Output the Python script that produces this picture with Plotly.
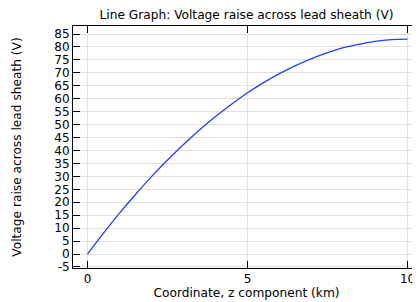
import plotly.graph_objects as go

z_km = [0, 0.5, 1, 1.5, 2, 2.5, 3, 3.5, 4, 4.5, 5, 5.5, 6, 6.5, 7, 7.5, 8, 8.5, 9, 9.5, 10]
voltage = [0, 8.1, 15.8, 23.0, 29.9, 36.3, 42.3, 47.9, 53.1, 57.9, 62.3,
           66.2, 69.7, 72.8, 75.5, 77.8, 79.7, 81.1, 82.2, 82.8, 83.0]
x_ticks = [0, 5, 10]
y_ticks = list(range(-5, 90, 5))

# page body has an 8px margin; figure is sized to fill the remaining window
OFF = 8
W, H = 420 - OFF, 302 - OFF

fig = go.Figure()
fig.add_trace(go.Scatter(x=z_km, y=voltage, mode="lines",
                         line=dict(color="#2040ff", width=1.3, shape="spline"),
                         showlegend=False))

font = dict(family="DejaVu Sans", size=12, color="black")
title_font = dict(family="DejaVu Sans", size=12.2, color="black")
fig.update_layout(
    width=W, height=H,
    margin=dict(l=73 - OFF, r=0, t=26 - OFF, b=34, pad=0),
    paper_bgcolor="white", plot_bgcolor="white",
    font=font,
    title=dict(text="Line Graph: Voltage raise across lead sheath (V)",
               x=(73 + 420 - 2 * OFF) / 2 / W, xanchor="center",
               y=1 - (14.5 - OFF) / H, yanchor="middle",
               font=dict(family="DejaVu Sans", size=12.2, color="black")),
)
fig.update_xaxes(range=[-0.453, 10.39], tickvals=x_ticks, ticktext=[str(v) for v in x_ticks],
                 showline=True, linecolor="black", linewidth=1, mirror="allticks",
                 ticks="inside", ticklen=7, tickcolor="black",
                 showgrid=True, gridcolor="#e0e0e0", gridwidth=1, zeroline=False,
                 title=dict(text="Coordinate, z component (km)", standoff=0, font=title_font),
                 tickfont=font)
fig.update_yaxes(range=[-5.4, 88.1], tickvals=y_ticks, ticktext=[str(v) for v in y_ticks],
                 showline=True, linecolor="black", linewidth=1, mirror="allticks",
                 ticks="inside", ticklen=7, tickcolor="black",
                 showgrid=True, gridcolor="#e0e0e0", gridwidth=1, zeroline=False,
                 title=dict(text="Voltage raise across lead sheath (V)", standoff=30, font=title_font),
                 tickfont=font)

fig.write_html("out.html")
